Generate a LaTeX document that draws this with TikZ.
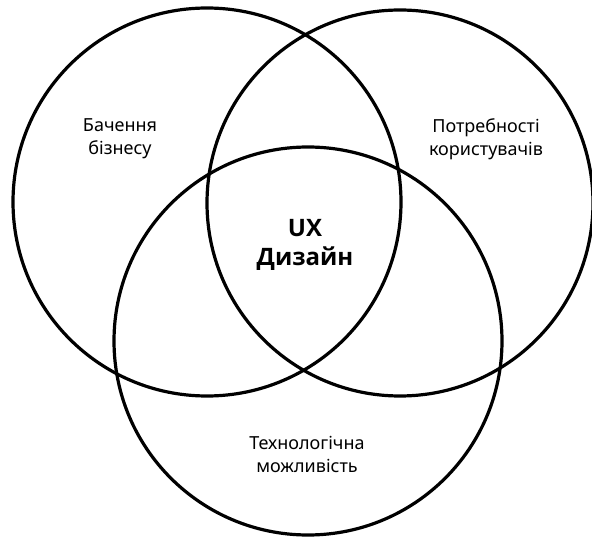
\documentclass[tikz,border=0pt]{standalone}
\usepackage{fontspec}
\setmainfont{Noto Sans}
\newfontfamily\uxfont{Open Sans}
\usetikzlibrary{positioning}

\begin{document}
\begin{tikzpicture}[
                x=1pt,y=-1pt,
                line width=3.2pt] %

\useasboundingbox (0,0) rectangle (592,537);

                    % circles
                    \node[draw,circle,minimum size=388pt,inner sep=0pt] (BIZ) at (207,202) {}; % 1
                    \node[draw,circle,minimum size=386pt,inner sep=0pt] (USR) at (400,203) {}; % 2
                    \node[draw,circle,minimum size=388pt,inner sep=0pt] (TECH) at (308,341) {}; % 3

                    % labels
                    \node[align=center,text=black,font=\fontsize{18}{23}\selectfont] (BIZL) at (120,139) {Бачення\\бізнесу}; % 1
                    \node[align=center,text=black,font=\fontsize{18}{23}\selectfont] (USRL) at (486,139) {Потребності\\користувачів}; % 2
                    \node[align=center,text=black,font=\fontsize{18}{23}\selectfont] (TECHL) at (307,454) {Технологічна\\можливість}; % 3

                    \node[align=center,text=black,font=\uxfont\bfseries\fontsize{24}{29}\selectfont] (UX) at (305,245) {UX\\Дизайн}; % center

                    \end{tikzpicture}
\end{document}
